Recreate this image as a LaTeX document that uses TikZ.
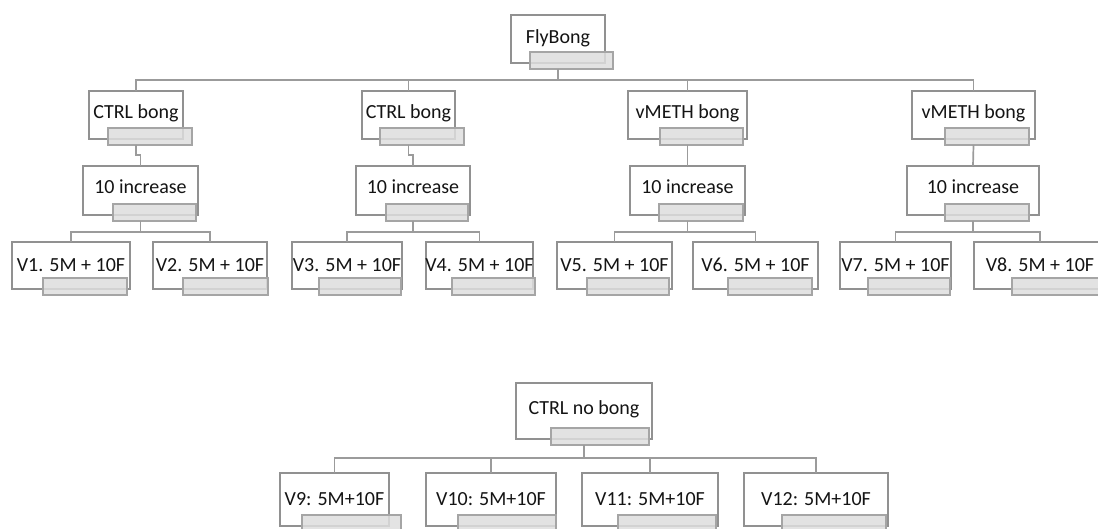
\documentclass[tikz,border=0pt]{standalone}
\usepackage{fontspec}
\setmainfont{Carlito}
\definecolor{boxline}{RGB}{145,145,145}
\definecolor{subline}{RGB}{165,165,165}
\definecolor{subfill}{RGB}{222,222,222}
\definecolor{connline}{RGB}{155,155,155}
\definecolor{txt}{RGB}{20,20,20}
\newcommand\ubox[9]{%
  \node[mainbox, minimum width={(#4-#2)*1pt}, minimum height={(#5-#3)*1pt}] (#1) at ({(#2+#4)/2},{(#3+#5)/2}) {};
  \node[subbox, minimum width={(#7-#6)*1pt}] (#1s) at ({(#6+#7)/2},{#5-2.5}) {};
  \node[lbl] (#1t) at ({(#2+#4)/2},#8) {#9};
}
\begin{document}
\begin{tikzpicture}[x=1pt,y=-1pt,
  mainbox/.style={draw=boxline, line width=1.7pt, fill=white, inner sep=0pt, outer sep=0pt, rectangle},
  subbox/.style={draw=subline, line width=1.7pt, fill=subfill, fill opacity=0.85, inner sep=0pt, outer sep=0pt, rectangle, minimum height=17pt},
  lbl/.style={anchor=base, inner sep=0pt, text=txt, font=\fontsize{20}{24}\selectfont},
  conn/.style={draw=connline, line width=1.7pt}]
\useasboundingbox (0,0) rectangle (1098,529);
\clip (0,0) rectangle (1098,529);
\coordinate (fbj) at (558,80);
% top level
\ubox{fb}{511}{15}{605}{63}{530}{613}{44}{FlyBong}
\ubox{c1}{89}{91}{183}{139}{108}{192}{119}{CTRL bong}
\ubox{c2}{362}{91}{455}{139}{380}{464}{119}{CTRL bong}
\ubox{m1}{628}{91}{747}{139}{660}{743}{119}{vMETH bong}
\ubox{m2}{912}{91}{1035}{139}{945}{1029}{119}{vMETH bong}
% 10 increase
\ubox{i1}{83}{166}{198}{215}{113}{196}{194}{10 increase}
\ubox{i2}{356}{166}{470}{215}{386}{468}{194}{10 increase}
\ubox{i3}{630}{166}{745}{215}{659}{743}{194}{10 increase}
\ubox{i4}{907}{166}{1039}{215}{945}{1029}{194}{10 increase}
% V row
\ubox{v1}{12}{242}{130}{289}{43}{127}{272}{V1. 5M + 10F}
\ubox{v2}{153}{242}{267}{289}{183}{268}{272}{V2. 5M + 10F}
\ubox{v3}{292}{242}{402}{289}{319}{401}{272}{V3. 5M + 10F}
\ubox{v4}{426}{242}{533}{289}{452}{535}{272}{V4. 5M + 10F}
\ubox{v5}{557}{242}{672}{289}{587}{669}{272}{V5. 5M + 10F}
\ubox{v6}{693}{242}{818}{289}{728}{812}{272}{V6. 5M + 10F}
\ubox{v7}{840}{242}{951}{289}{868}{950}{272}{V7. 5M + 10F}
\ubox{v8}{974}{242}{1106}{289}{1012}{1100}{272}{V8. 5M + 10F}
% bottom tree
\ubox{nb}{516}{383}{652}{439}{551}{649}{414}{CTRL no bong}
\ubox{v9}{280}{473}{389}{526}{302}{401}{505}{V9: 5M+10F}
\ubox{vx}{426}{473}{556}{526}{458}{556}{505}{V10: 5M+10F}
\ubox{vy}{582}{473}{718}{526}{618}{716}{505}{V11: 5M+10F}
\ubox{vz}{744}{473}{888}{526}{782}{886}{505}{V12: 5M+10F}
% connectors
\draw[conn] (fb.south |- fbs.south) -- (fbj);
\draw[conn] (c1.north) |- (fbj) -| (m2.north);
\draw[conn] (c2.north) -- (c2.north |- fbj);
\draw[conn] (m1.north) -- (m1.north |- fbj);
\draw[conn] (c1.south |- c1s.south) -- ++(0,10) -| (i1.north);
\draw[conn] (c2.south |- c2s.south) -- ++(0,10) -| (i2.north);
\draw[conn] (m1.south |- m1s.south) -- (i3.north);
\draw[conn] (m2.south |- m2s.south) -- (i4.north);
\draw[conn] (i1.south |- i1s.south) -- ++(0,11) coordinate (j1);
\draw[conn] (v1.north) |- (j1) -| (v2.north);
\draw[conn] (i2.south |- i2s.south) -- ++(0,11) coordinate (j2);
\draw[conn] (v3.north) |- (j2) -| (v4.north);
\draw[conn] (i3.south |- i3s.south) -- ++(0,11) coordinate (j3);
\draw[conn] (v5.north) |- (j3) -| (v6.north);
\draw[conn] (i4.south |- i4s.south) -- ++(0,11) coordinate (j4);
\draw[conn] (v7.north) |- (j4) -| (v8.north);
\draw[conn] (nb.south |- nbs.south) -- ++(0,13) coordinate (jb);
\draw[conn] (v9.north) |- (jb) -| (vz.north);
\draw[conn] (vx.north) -- (vx.north |- jb);
\draw[conn] (vy.north) -- (vy.north |- jb);
\end{tikzpicture}
\end{document}
